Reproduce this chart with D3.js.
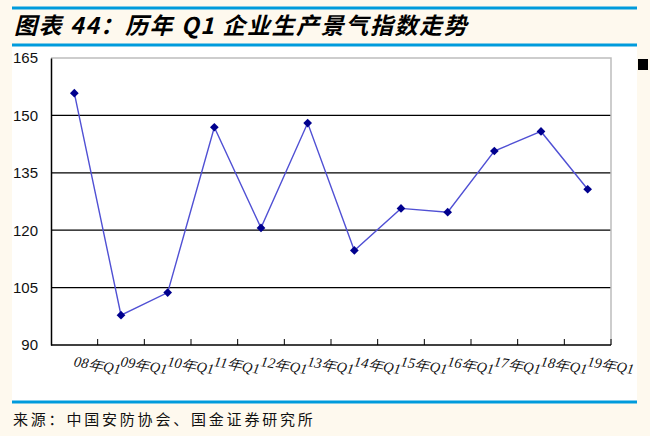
<!DOCTYPE html>
<html>
<head>
<meta charset="utf-8">
<script src="https://cdn.jsdelivr.net/npm/d3@7"></script>
<style>
  body { margin: 0; background: #fef9ee; }
  svg { display: block; }
</style>
</head>
<body>
<svg id="chart"></svg>
<script>
const width = 650
const height = 436

// data
const categories = ['08年Q1', '09年Q1', '10年Q1', '11年Q1', '12年Q1', '13年Q1',
  '14年Q1', '15年Q1', '16年Q1', '17年Q1', '18年Q1', '19年Q1']
const values = [155.8, 97.8, 103.7, 146.9, 120.6, 148.0, 114.7, 125.7, 124.7, 140.7, 145.8, 130.7]
const yTicks = [90, 105, 120, 135, 150, 165]

const title = '图表 44：历年 Q1 企业生产景气指数走势'
const source = '来源：中国安防协会、国金证券研究所'

const plot = { left: 51, right: 611, top: 58, bottom: 345 }
const blue = '#009bdc'

const svg = d3.select('#chart').attr('width', width).attr('height', height)

svg.append('rect').attr('width', width).attr('height', height).attr('fill', '#fef9ee')
// white panel
svg.append('rect')
  .attr('x', 12).attr('y', 46).attr('width', 625).attr('height', 355)
  .attr('fill', '#ffffff')

// header / footer rules
svg.append('line').attr('x1', 12).attr('x2', 637).attr('y1', 8).attr('y2', 8)
  .attr('stroke', blue).attr('stroke-width', 3)
svg.append('line').attr('x1', 12).attr('x2', 637).attr('y1', 45).attr('y2', 45)
  .attr('stroke', blue).attr('stroke-width', 3)
svg.append('line').attr('x1', 12).attr('x2', 637).attr('y1', 402).attr('y2', 402)
  .attr('stroke', blue).attr('stroke-width', 3)

svg.append('text')
  .attr('x', 14).attr('y', 34)
  .attr('font-family', '"Noto Sans CJK SC", sans-serif')
  .attr('font-weight', 'bold')
  .attr('font-style', 'italic')
  .attr('font-size', 23)
  .attr('letter-spacing', 1.6)
  .attr('fill', '#000')
  .text(title)

svg.append('text')
  .attr('x', 13).attr('y', 425)
  .attr('font-family', '"Noto Sans CJK SC", sans-serif')
  .attr('font-size', 15)
  .attr('letter-spacing', 2.8)
  .attr('fill', '#111')
  .text(source)

const x = d3.scaleBand().domain(categories).range([plot.left, plot.right])
const y = d3.scaleLinear().domain([90, 165]).range([plot.bottom, plot.top])

// grid lines
svg.append('g')
  .selectAll('line')
  .data(yTicks.filter(t => t > 90 && t < 165))
  .enter().append('line')
  .attr('x1', plot.left).attr('x2', plot.right)
  .attr('y1', d => y(d)).attr('y2', d => y(d))
  .attr('stroke', '#000').attr('stroke-width', 1.3)

// top and right border
svg.append('path')
  .attr('d', `M${plot.left},${plot.top}H${plot.right}V${plot.bottom}`)
  .attr('fill', 'none').attr('stroke', '#bdbdbd').attr('stroke-width', 1.5)

// left axis
const yAxis = svg.append('g')
  .attr('transform', `translate(${plot.left},0)`)
  .call(d3.axisLeft(y).tickValues(yTicks).tickSize(0).tickPadding(13))
yAxis.select('.domain').attr('stroke', '#000').attr('stroke-width', 1.5)
yAxis.selectAll('text')
  .attr('font-family', '"Liberation Sans Narrow", "Liberation Sans", sans-serif')
  .attr('font-size', 15)
  .attr('fill', '#111')

// bottom axis with inner ticks at category boundaries
const xAxis = svg.append('g')
svg.append('line')
  .attr('x1', plot.left).attr('x2', plot.right)
  .attr('y1', plot.bottom).attr('y2', plot.bottom)
  .attr('stroke', '#000').attr('stroke-width', 1.5)
xAxis.selectAll('line')
  .data(categories.slice(1).concat(['end']))
  .enter().append('line')
  .attr('x1', (d, i) => plot.left + x.step() * (i + 1))
  .attr('x2', (d, i) => plot.left + x.step() * (i + 1))
  .attr('y1', plot.bottom).attr('y2', plot.bottom - 6)
  .attr('stroke', '#000').attr('stroke-width', 1)

xAxis.selectAll('text')
  .data(categories)
  .enter().append('text')
  .attr('transform', d => `translate(${x(d) + x.bandwidth() / 2 - 1},${plot.bottom + 21}) rotate(10)`)
  .attr('font-family', '"Liberation Serif", serif')
  .attr('font-style', 'italic')
  .attr('font-size', 14.5)
  .attr('fill', '#111')
  .text(d => d)

// series
const line = d3.line()
  .x((d, i) => x(categories[i]) + x.bandwidth() / 2)
  .y(d => y(d))

svg.append('path')
  .datum(values)
  .attr('d', line)
  .attr('fill', 'none')
  .attr('stroke', '#5050d4')
  .attr('stroke-width', 1.4)

svg.append('g')
  .selectAll('path')
  .data(values)
  .enter().append('path')
  .attr('d', d3.symbol(d3.symbolSquare, 38))
  .attr('transform', (d, i) => `translate(${x(categories[i]) + x.bandwidth() / 2},${y(d)}) rotate(45)`)
  .attr('fill', '#00008e')

// legend marker stub
svg.append('rect')
  .attr('x', 638).attr('y', 59).attr('width', 10).attr('height', 11)
  .attr('fill', '#000')
</script>
</body>
</html>
